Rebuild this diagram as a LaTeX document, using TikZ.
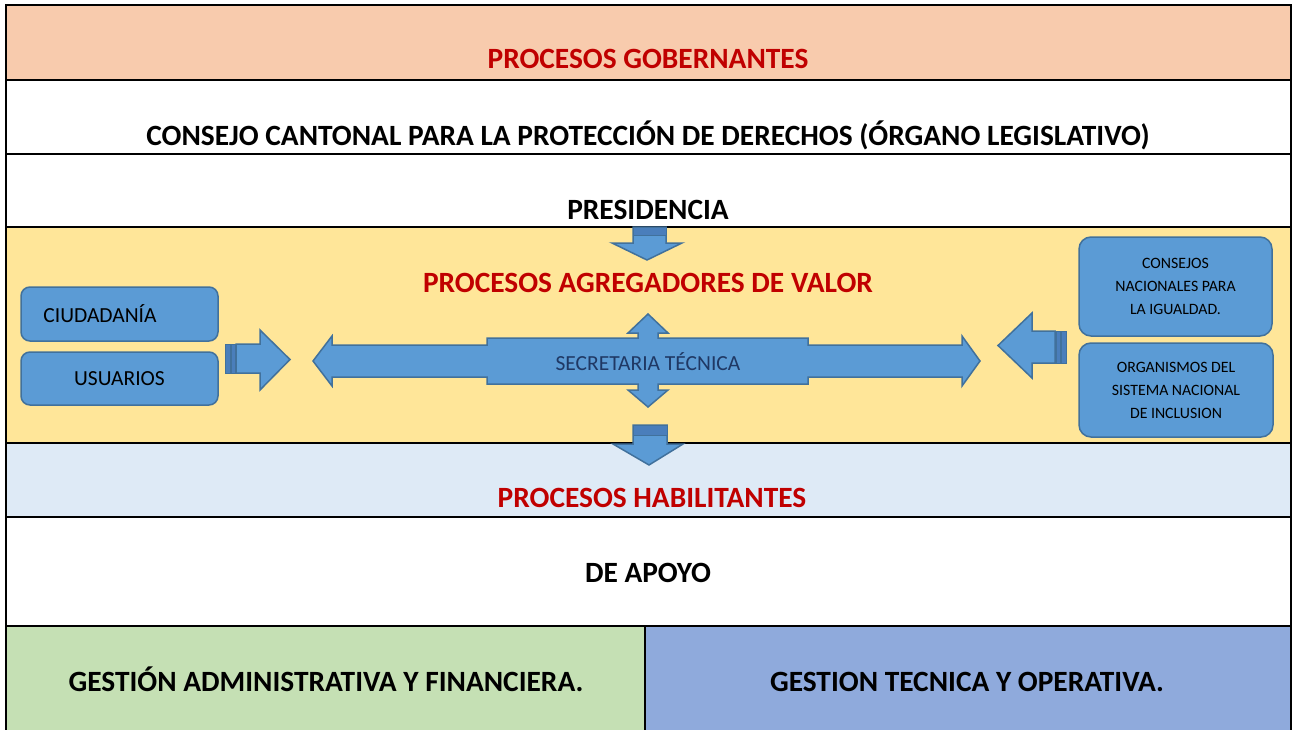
\documentclass[tikz,border=0pt]{standalone}
\usepackage{fontspec}
\setmainfont{Carlito}
\definecolor{peach}{HTML}{F8CBAD}
\definecolor{yellowbg}{HTML}{FFE699}
\definecolor{lightbluebg}{HTML}{DEEAF6}
\definecolor{greenbg}{HTML}{C5E0B4}
\definecolor{bluebg}{HTML}{8FAADC}
\definecolor{titlered}{HTML}{C00000}
\definecolor{shapefill}{HTML}{5B9BD5}
\definecolor{shapeline}{HTML}{41719C}
\definecolor{shapedark}{HTML}{4A7EBB}
\definecolor{navytext}{HTML}{1F3864}
\tikzset{
  frame/.style={draw=black, line width=1.8pt},
  bigtitle/.style={font=\fontsize{29.4}{35}\selectfont\bfseries, anchor=base, inner sep=0pt},
  redtitle/.style={bigtitle, text=titlered},
  shapestyle/.style={fill=shapefill, draw=shapeline, line width=1.5pt, line join=miter},
  darkband/.style={fill=shapedark, draw=shapeline, line width=1pt},
  stripebar/.style={fill=shapedark, draw=shapeline, line width=0.8pt},
  roundbox/.style={shapestyle, rounded corners=9pt, inner sep=0pt, text=black, align=center},
  smalltext/.style={font=\fontsize{15.8}{23}\selectfont},
  medtext/.style={font=\fontsize{21.5}{25}\selectfont}
}
\begin{document}
\begin{tikzpicture}[x=1pt,y=-1pt]
\useasboundingbox (0,0) rectangle (1297,730);
% row backgrounds
\fill[peach] (6,5) rectangle (1291,80);
\fill[white] (6,80) rectangle (1291,227);
\fill[yellowbg] (6,227) rectangle (1291,443);
\fill[lightbluebg] (6,443) rectangle (1291,517);
\fill[white] (6,517) rectangle (1291,626);
\fill[greenbg] (6,626) rectangle (645,730);
\fill[bluebg] (645,626) rectangle (1291,730);
% grid lines
\draw[frame] (6,730) -- (6,5) -- (1291,5) -- (1291,730);
\draw[frame] (6,80) -- (1291,80);
\draw[frame] (6,154) -- (1291,154);
\draw[frame] (6,227) -- (1291,227);
\draw[frame] (6,443) -- (1291,443);
\draw[frame] (6,517) -- (1291,517);
\draw[frame] (6,626) -- (1291,626);
\draw[frame] (645,626) -- (645,730);
% titles
\node[redtitle] (gob) at (648,69) {PROCESOS GOBERNANTES};
\node[bigtitle] (consejo) at (648,146) {CONSEJO CANTONAL PARA LA PROTECCIÓN DE DERECHOS (ÓRGANO LEGISLATIVO)};
\node[bigtitle] (pres) at (648,219) {PRESIDENCIA};
\node[redtitle] (agreg) at (648,292) {PROCESOS AGREGADORES DE VALOR};
\node[redtitle] (habil) at (652,507) {PROCESOS HABILITANTES};
\node[bigtitle] (apoyo) at (648,582) {DE APOYO};
\node[bigtitle] (gadm) at (326,691) {GESTIÓN ADMINISTRATIVA Y FINANCIERA.};
\node[bigtitle] (gtec) at (967,691) {GESTION TECNICA Y OPERATIVA.};
% top down arrow
\path[shapestyle] (633,227) -- (666,227) -- (666,243) -- (682,243) -- (647,260) -- (612,243) -- (633,243) -- cycle;
\path[darkband] (633,227) rectangle (666,235);
% bottom down arrow
\path[shapestyle] (633,425) -- (667,425) -- (667,444) -- (683,444) -- (649,465) -- (613,444) -- (633,444) -- cycle;
\path[darkband] (633,425) rectangle (667,435);
% left boxes
\node[roundbox, minimum width=197pt, minimum height=54pt] (ciud) at (119.5,314) {};
\node[medtext, anchor=base, inner sep=0pt] (ciudtext) at (100,322) {CIUDADANÍA};
\node[roundbox, medtext, minimum width=197pt, minimum height=53pt] (usu) at (119.5,378.5) {USUARIOS};
% left striped arrow
\path[stripebar] (225,344) rectangle (230,373);
\path[stripebar] (231,344) rectangle (235,373);
\path[shapestyle] (236,344) -- (260,344) -- (260,330) -- (290,359.5) -- (260,390) -- (260,373) -- (236,373) -- cycle;
% central cross arrow
\path[shapestyle] (313,361) -- (332,336) -- (332,345) -- (487,345) -- (487,338) -- (638,338) -- (638,333) -- (628,333) -- (648,314) -- (668,333) -- (658,333) -- (658,338) -- (808,338) -- (808,345) -- (962,345) -- (962,336) -- (980,361) -- (962,386) -- (962,377) -- (808,377) -- (808,384) -- (658,384) -- (658,390) -- (668,390) -- (648,407) -- (628,390) -- (638,390) -- (638,384) -- (487,384) -- (487,377) -- (332,377) -- (332,386) -- cycle;
\node[medtext, text=navytext] (secr) at (648,362) {SECRETARIA TÉCNICA};
% right striped arrow (pointing left)
\path[stripebar] (1061,331) rectangle (1066,363);
\path[stripebar] (1056,331) rectangle (1060,363);
\path[shapestyle] (1055,331) -- (1032,331) -- (1032,313) -- (998,345.5) -- (1032,378) -- (1032,363) -- (1055,363) -- cycle;
% right boxes
\node[roundbox, smalltext, rounded corners=12pt, minimum width=193pt, minimum height=99pt] (consejos) at (1175.5,286.5) {CONSEJOS\\NACIONALES PARA\\LA IGUALDAD.};
\node[roundbox, smalltext, rounded corners=12pt, minimum width=194pt, minimum height=94pt] (organismos) at (1176,390) {ORGANISMOS DEL\\SISTEMA NACIONAL\\DE INCLUSION};
\end{tikzpicture}
\end{document}
